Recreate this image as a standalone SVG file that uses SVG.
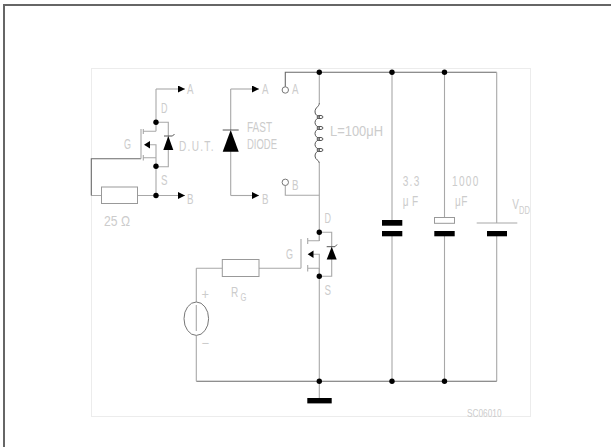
<svg xmlns="http://www.w3.org/2000/svg" width="611" height="447" viewBox="0 0 611 447">
<style>
.w{fill:none;stroke:#a8a8a8;stroke-width:1.100}
.d{fill:none;stroke:#6a6a6a;stroke-width:1.100}
.k{fill:none;stroke:#555;stroke-width:1}
.t{font-family:"Liberation Sans",Arial,sans-serif;font-size:14px;fill:#cccccc}
.s{font-size:10.500px}
.b{fill:#000}
.r{fill:#fff;stroke:#999;stroke-width:1}
</style>
<defs>
<marker id="arr" markerWidth="8" markerHeight="7" refX="7" refY="3.500" orient="auto" markerUnits="userSpaceOnUse"><path d="M0 0L7 3.500L0 7Z" fill="#000"/></marker>
</defs>
<rect width="611" height="447" fill="#fff"/>
<path d="M4 447V5H611" fill="none" stroke="#666" stroke-width="2"/>
<rect x="91.500" y="68.500" width="439" height="348" fill="none" stroke="#ececec" stroke-width="1"/>
<g id="connectors">
<path class="d" d="M285.300 87V72.300H496.700"/>
<path class="w" d="M496.700 72.300V223M496.700 236V381.300"/>
<path class="w" d="M319.300 72.300V103M319.300 163V241M319.300 268V381.300"/>
<path class="w" d="M285.300 185.500V195.300H319.300"/>
<path class="w" d="M392 72.300V220M392 236V381.300"/>
<path class="w" d="M444.500 72.300V217.500M444.500 236V381.300"/>
<path class="d" d="M196.300 381.300H496.700"/>
<path class="w" d="M196.300 335.400V381.300"/>
<path class="w" d="M196.300 268.200H222.300M259 268.200H301M196.300 268.200V302"/>
<path class="w" d="M319.300 381.300V398"/>
<path class="w" d="M156 89H185" marker-end="url(#arr)"/>
<path class="w" d="M156 89V122M156 166V195.500"/>
<path class="w" d="M91.300 195.500H101.500M137.700 195.500H185" marker-end="url(#arr)"/>
<path class="d" d="M91.300 195.500V158.700H141"/>
<path class="w" d="M230.700 89H259" marker-end="url(#arr)"/>
<path class="w" d="M230.700 195.500H259" marker-end="url(#arr)"/>
<path class="w" d="M230.700 89V130M230.700 151V195.500"/>
</g>
<g id="dut">
<path class="w" d="M141 129V158.700M143.300 131.300H156M143.300 129V134M143.300 155V160.500M143.300 157.700H156M150 144.700H156V166M156 122V131.300M156 122.300H168.300V166.700H156"/>
<path class="b" d="M144 144.700L150 141V148.500Z"/>
<path class="b" d="M168.300 136L173.300 150H163.300Z"/>
<path class="k" d="M164 136H172.500L174.500 134"/>
<circle cx="156" cy="122.300" r="2.700" class="b"/><circle cx="156" cy="166.300" r="2.700" class="b"/><circle cx="156" cy="195.500" r="2.700" class="b"/>
<text class="t" x="124" y="149" textLength="7" lengthAdjust="spacingAndGlyphs">G</text>
<text class="t" x="161" y="113" textLength="6.500" lengthAdjust="spacingAndGlyphs">D</text>
<text class="t" x="161" y="185" textLength="6.500" lengthAdjust="spacingAndGlyphs">S</text>
<text class="t" transform="translate(179 151) scale(.72 1)" letter-spacing="1.800">D.U.T.</text>
<text class="t" x="187" y="94" textLength="6.500" lengthAdjust="spacingAndGlyphs">A</text>
<text class="t" x="187" y="204" textLength="6.500" lengthAdjust="spacingAndGlyphs">B</text>
</g>
<g id="r25"><rect class="r" x="101.500" y="187" width="36" height="16.500"/><text class="t" x="104" y="225.500" textLength="26" lengthAdjust="spacingAndGlyphs">25 Ω</text></g>
<g id="fast-diode">
<path class="b" d="M230.700 130L238.700 151.700H222.700Z"/><path class="k" d="M222.700 130H238.700"/>
<text class="t" x="247" y="132" textLength="25" lengthAdjust="spacingAndGlyphs">FAST</text>
<text class="t" x="247" y="149" textLength="30" lengthAdjust="spacingAndGlyphs">DIODE</text>
<text class="t" x="262" y="94" textLength="6.500" lengthAdjust="spacingAndGlyphs">A</text>
<text class="t" x="262" y="204" textLength="6.500" lengthAdjust="spacingAndGlyphs">B</text>
</g>
<g id="term-a"><circle cx="285.300" cy="90" r="3.200" fill="#fff" stroke="#777"/><text class="t" x="292" y="94" textLength="6.500" lengthAdjust="spacingAndGlyphs">A</text></g>
<g id="term-b"><circle cx="285.300" cy="182.300" r="3.200" fill="#fff" stroke="#777"/><text class="t" x="292" y="190" textLength="6.500" lengthAdjust="spacingAndGlyphs">B</text></g>
<g id="inductor">
<path class="k" d="M319.300 103C319.300 107 315 107 315 112C315 115 318 116.500 320 116.500M320 117.500C317 118 315 120 315 122.500C315 125 317 127 320 127.500M320 128.500C317 129 315 131 315 133.500C315 136 317 138 320 138.500M320 139.500C317 140 315 142 315 144.500C315 147 317 149 320 149.500M320 150.500C317 151 315 153 315 156C315 160 319.300 160 319.300 163"/>
<ellipse class="k" cx="320" cy="117" rx="3" ry="1.600"/><ellipse class="k" cx="320" cy="128" rx="3" ry="1.600"/><ellipse class="k" cx="320" cy="139" rx="3" ry="1.600"/><ellipse class="k" cx="320" cy="150" rx="3" ry="1.600"/>
<text class="t" x="330" y="135.500" textLength="53" lengthAdjust="spacingAndGlyphs">L=100μH</text>
</g>
<g id="mosfet">
<path class="w" d="M301 239V268.200M307.700 240.700H319.300M307.700 238V244M307.700 265V271.500M307.700 268.300H319.300M312.700 254.300H319.300V276M319.300 232.300V241M319.300 232.300H331.700V276.300H319.300"/>
<path class="b" d="M307.700 254.300L313.500 250.500V258Z"/>
<path class="b" d="M331.700 246.700L336.700 259.500H326.700Z"/>
<path class="k" d="M326.700 246.700H335L337 244.500"/>
<circle cx="319.300" cy="232.300" r="2.700" class="b"/><circle cx="319.300" cy="276.300" r="2.700" class="b"/>
<text class="t" x="286" y="259" textLength="7" lengthAdjust="spacingAndGlyphs">G</text>
<text class="t" x="324.500" y="223" textLength="6.500" lengthAdjust="spacingAndGlyphs">D</text>
<text class="t" x="324.500" y="295" textLength="6.500" lengthAdjust="spacingAndGlyphs">S</text>
</g>
<g id="rg"><rect class="r" x="222.300" y="259.500" width="36.700" height="17"/><text class="t" transform="translate(231 296.500) scale(.72 1)">R<tspan class="s" dx="3" dy="4">G</tspan></text></g>
<g id="source">
<ellipse cx="196.300" cy="318.700" rx="12.300" ry="16.700" fill="#fff" stroke="#777" stroke-width="1"/><path class="w" d="M196.300 305V331"/>
<text class="t" x="201.500" y="299" textLength="7.500" lengthAdjust="spacingAndGlyphs">+</text><text class="t" x="201.500" y="348" textLength="7.500" lengthAdjust="spacingAndGlyphs">−</text>
</g>
<g id="ground"><circle cx="319.300" cy="381.300" r="2.700" class="b"/><rect class="b" x="307.300" y="398" width="24.400" height="5.400"/></g>
<g id="top-nodes"><circle cx="319.300" cy="72.300" r="2.700" class="b"/><circle cx="392" cy="72.300" r="2.700" class="b"/><circle cx="444.500" cy="72.300" r="2.700" class="b"/></g>
<g id="c1"><rect class="b" x="382" y="220" width="20.300" height="5.700"/><rect class="b" x="382" y="231" width="20.300" height="5.300"/><text class="t" transform="translate(402.700 185.500) scale(.72 1)" letter-spacing="1.800">3.3</text><text class="t" transform="translate(402.700 205.500) scale(.72 1)" letter-spacing="0.500">μ F</text><circle cx="392" cy="381.300" r="2.700" class="b"/></g>
<g id="c2"><rect class="r" x="434.500" y="217.500" width="20" height="5.800"/><rect class="b" x="434.300" y="231" width="20.400" height="5.300"/><text class="t" transform="translate(452 185.500) scale(.72 1)" letter-spacing="1.800">1000</text><text class="t" transform="translate(455 205.500) scale(.72 1)" letter-spacing="0.500">μF</text><circle cx="444.500" cy="381.300" r="2.700" class="b"/></g>
<g id="vdd"><path class="w" d="M476.700 223H517.300"/><rect class="b" x="487" y="231" width="20" height="5.300"/><text class="t" transform="translate(512.300 208.500) scale(.72 1)">V<tspan class="s" dy="5.500">DD</tspan></text></g>
<text class="t" x="467" y="416.500" style="font-size:10px" textLength="34.500" lengthAdjust="spacingAndGlyphs">SC06010</text>
</svg>
